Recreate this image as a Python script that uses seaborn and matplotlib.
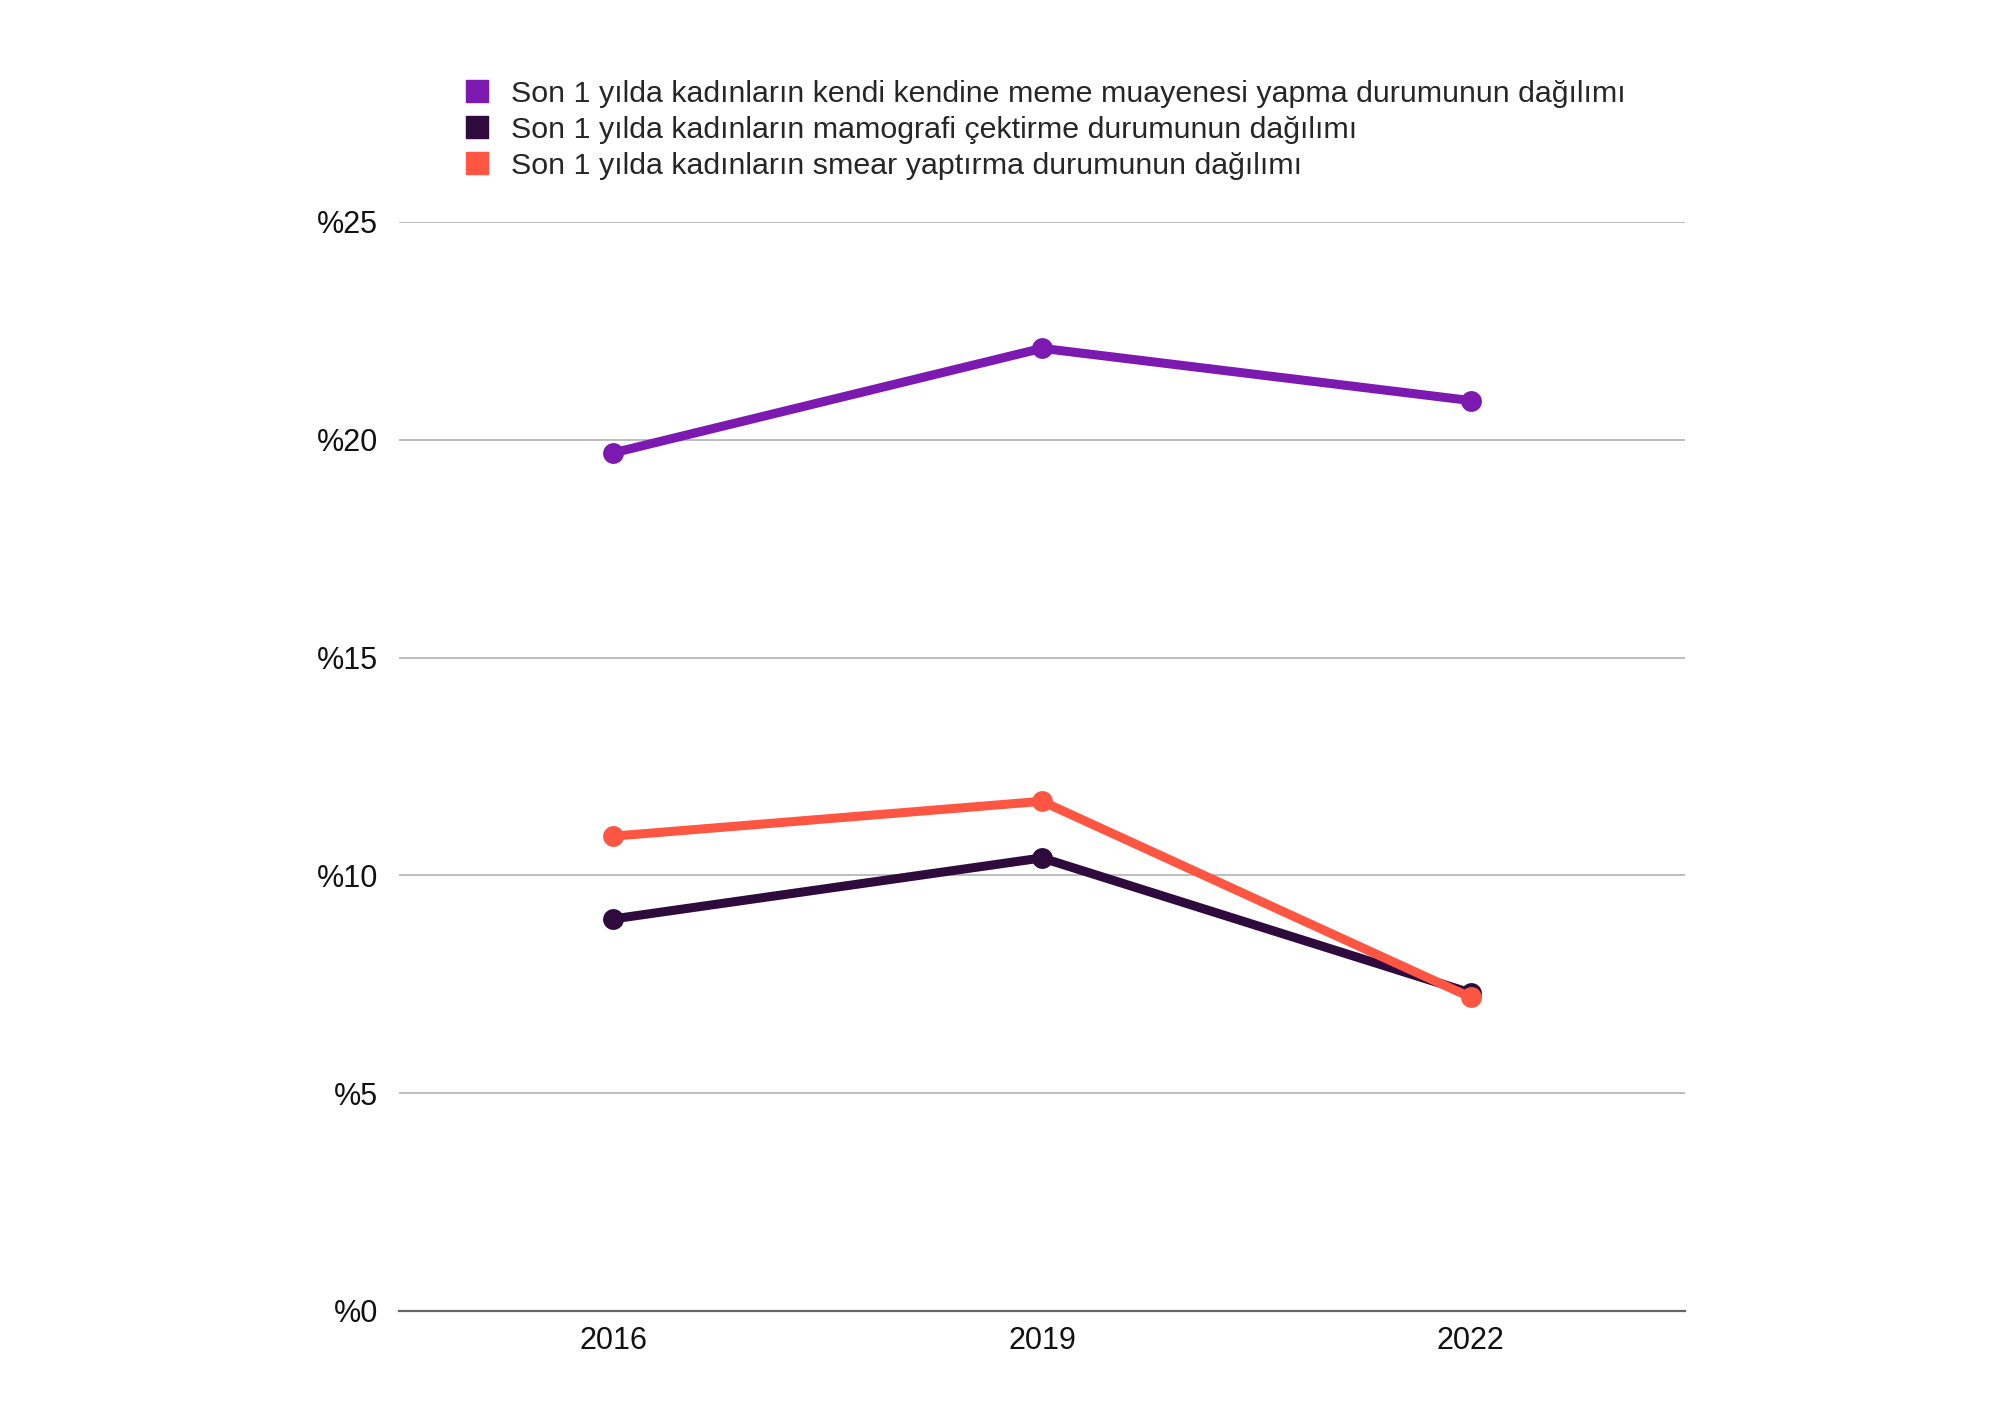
import matplotlib
matplotlib.use("Agg")
import matplotlib.pyplot as plt
from matplotlib.lines import Line2D
import seaborn as sns
import pandas as pd

# data
years = ["2016", "2019", "2022"]
series_names = [
    "Son 1 yılda kadınların kendi kendine meme muayenesi yapma durumunun dağılımı",
    "Son 1 yılda kadınların mamografi çektirme durumunun dağılımı",
    "Son 1 yılda kadınların smear yaptırma durumunun dağılımı",
]
meme = [19.7, 22.1, 20.9]
mamografi = [9.0, 10.4, 7.3]
smear = [10.9, 11.7, 7.2]
colors_ = ["#7b19b1", "#2e0a3d", "#ff5543"]
y_ticks = [0, 5, 10, 15, 20, 25]

rows = []
for name, vals in zip(series_names, [meme, mamografi, smear]):
    for yr, v in zip(years, vals):
        rows.append({"year": yr, "value": v, "series": name})
df = pd.DataFrame(rows)

sns.set_style("white")
plt.rcParams['font.family'] = ['Liberation Sans', 'DejaVu Sans']

fig = plt.figure(figsize=(20, 14.14), dpi=100)
ax = fig.add_axes([0.1995, 0.0729, 0.643, 0.7701])

sns.lineplot(data=df, x="year", y="value", hue="series", hue_order=series_names,
             palette=colors_, linewidth=6.5, marker="o", markersize=15,
             markeredgewidth=0, ax=ax, legend=False, sort=False)

for ln in ax.lines:
    ln.set_clip_on(False)
    ln.set_solid_capstyle("round")

ax.set_xlim(-0.5, 2.5)
ax.set_ylim(0, 25)
ax.set_yticks(y_ticks)
ax.set_yticklabels([f"%{t}" for t in y_ticks])
ax.yaxis.grid(True, color="#b7b7b7", linewidth=1.3)
ax.set_axisbelow(True)
for s in ["top", "right", "left"]:
    ax.spines[s].set_visible(False)
ax.spines["bottom"].set_color("#666666")
ax.spines["bottom"].set_linewidth(1.6)
ax.tick_params(axis="both", length=0, labelsize=22, colors="#111111")
ax.tick_params(axis="x", pad=11)
ax.tick_params(axis="y", pad=15)
ax.set_xlabel("")
ax.set_ylabel("")

handles = [Line2D([], [], marker="s", linestyle="none", color=c, markersize=16)
           for c in colors_]
fig.legend(handles, series_names, loc="upper left", bbox_to_anchor=(0.2295, 0.9435),
           frameon=False, fontsize=21.9, handletextpad=0.5, labelspacing=0.26,
           borderpad=0, handlelength=1.2, borderaxespad=0)

fig.savefig("out.png", dpi=100)
